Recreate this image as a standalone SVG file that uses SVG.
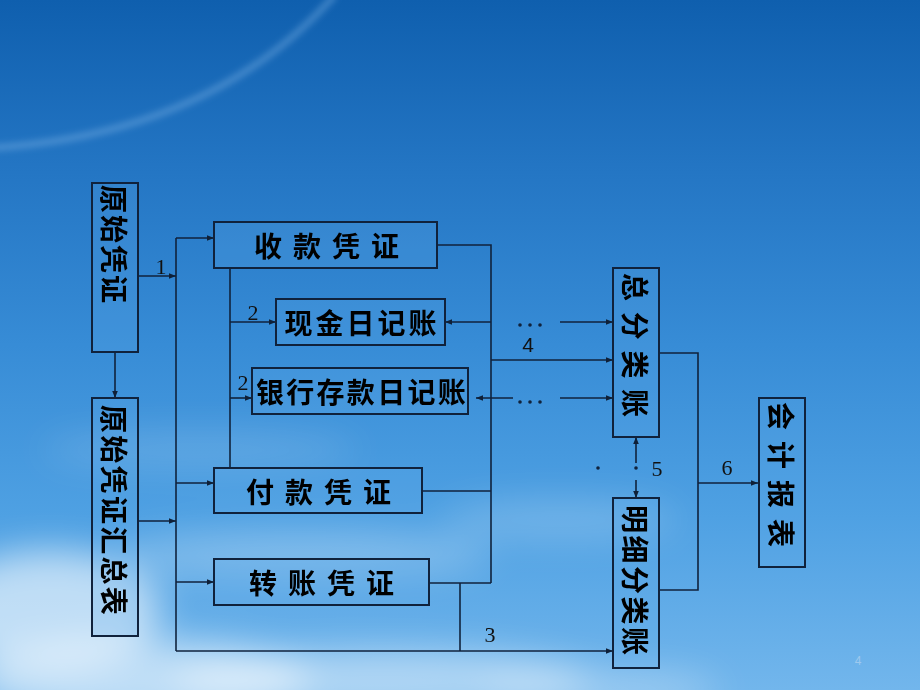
<svg xmlns="http://www.w3.org/2000/svg" width="920" height="690" viewBox="0 0 920 690">
<defs>
<linearGradient id="sky" x1="0" y1="0" x2="0" y2="1">
<stop offset="0" stop-color="#0f5fae"/>
<stop offset="0.25" stop-color="#2476c4"/>
<stop offset="0.5" stop-color="#378cd6"/>
<stop offset="0.75" stop-color="#4fa1e3"/>
<stop offset="1" stop-color="#72b6ec"/>
</linearGradient>
<filter id="blur" x="-50%" y="-50%" width="200%" height="200%"><feGaussianBlur stdDeviation="18"/></filter>
<filter id="blur2" x="-20%" y="-20%" width="140%" height="140%"><feGaussianBlur stdDeviation="3"/></filter>
<marker id="ah" viewBox="0 0 10 10" refX="10" refY="5" markerWidth="7" markerHeight="7" markerUnits="userSpaceOnUse" orient="auto">
<path d="M0,1 L10,5 L0,9 z" fill="#0f2038"/>
</marker>
<style>
.box{fill:#5aa6e6;fill-opacity:0.25;stroke:#10223c;stroke-width:2}
.ln{fill:none;stroke:#10223c;stroke-width:1.6}
.ar{fill:none;stroke:#10223c;stroke-width:1.6;marker-end:url(#ah)}
.t{font-family:"Noto Sans CJK SC","Noto Sans",sans-serif;font-size:28px;font-weight:bold;fill:#000}
.h{text-anchor:middle;dominant-baseline:central}
.v{dominant-baseline:central}
.n{font-family:"Liberation Serif",serif;font-size:22px;fill:#111}
</style>
</defs>
<rect width="920" height="690" fill="url(#sky)"/>
<path d="M-10,148 Q210,135 335,-5" fill="none" stroke="#7fb5e6" stroke-opacity="0.4" stroke-width="7" filter="url(#blur2)"/>
<g filter="url(#blur)" fill="#ffffff">
<ellipse cx="50" cy="610" rx="110" ry="60" opacity="0.6"/>
<ellipse cx="140" cy="680" rx="170" ry="40" opacity="0.55"/>
<ellipse cx="380" cy="680" rx="210" ry="30" opacity="0.45"/>
<ellipse cx="300" cy="555" rx="190" ry="25" opacity="0.25"/>
<ellipse cx="200" cy="450" rx="160" ry="18" opacity="0.15"/>
<ellipse cx="560" cy="520" rx="120" ry="20" opacity="0.2"/>
<ellipse cx="600" cy="690" rx="120" ry="20" opacity="0.3"/>
</g>

<g id="connectors">
<line class="ar" x1="115" y1="352" x2="115" y2="398"/>
<line class="ar" x1="138" y1="276" x2="176" y2="276"/>
<line class="ar" x1="138" y1="521" x2="176" y2="521"/>
<line class="ln" x1="176" y1="238" x2="176" y2="651"/>
<line class="ar" x1="176" y1="238" x2="214" y2="238"/>
<line class="ar" x1="176" y1="483" x2="214" y2="483"/>
<line class="ar" x1="176" y1="582" x2="214" y2="582"/>
<line class="ar" x1="176" y1="651" x2="613" y2="651"/>
<line class="ln" x1="230" y1="268" x2="230" y2="468"/>
<line class="ar" x1="230" y1="322" x2="276" y2="322"/>
<line class="ar" x1="230" y1="398" x2="252" y2="398"/>
<polyline class="ln" points="437,245 491,245 491,583"/>
<line class="ar" x1="491" y1="322" x2="445" y2="322"/>
<line class="ar" x1="513" y1="398" x2="476" y2="398"/>
<line class="ln" x1="422" y1="491" x2="491" y2="491"/>
<line class="ln" x1="429" y1="583" x2="491" y2="583"/>
<line class="ln" x1="460" y1="583" x2="460" y2="651"/>
<line class="ar" x1="560" y1="322" x2="613" y2="322"/>
<line class="ar" x1="491" y1="360" x2="613" y2="360"/>
<line class="ar" x1="560" y1="398" x2="613" y2="398"/>
<polyline class="ln" points="659,353 698,353 698,590 659,590"/>
<line class="ar" x1="698" y1="483" x2="758" y2="483"/>
<line class="ar" x1="636" y1="463" x2="636" y2="437"/>
<line class="ar" x1="636" y1="480" x2="636" y2="498"/>
<circle cx="598" cy="468" r="1.8" fill="#10223c"/>
<circle cx="636" cy="468" r="1.8" fill="#10223c"/>
<circle cx="520" cy="325" r="1.8" fill="#10223c"/>
<circle cx="530" cy="325" r="1.8" fill="#10223c"/>
<circle cx="540" cy="325" r="1.8" fill="#10223c"/>
<circle cx="520" cy="402" r="1.8" fill="#10223c"/>
<circle cx="530" cy="402" r="1.8" fill="#10223c"/>
<circle cx="540" cy="402" r="1.8" fill="#10223c"/>
<text class="n" x="161" y="274" text-anchor="middle">1</text>
<text class="n" x="253" y="320" text-anchor="middle">2</text>
<text class="n" x="243" y="390" text-anchor="middle" font-size="24">2</text>
<text class="n" x="490" y="642" text-anchor="middle">3</text>
<text x="528" y="352" text-anchor="middle" font-family="Liberation Sans, sans-serif" font-size="21" fill="#111">4</text>
<text class="n" x="657" y="476" text-anchor="middle">5</text>
<text class="n" x="727" y="475" text-anchor="middle">6</text>
</g>

<g id="n-yuanshi">
<rect class="box" x="92" y="183" width="46" height="169"/>
<text class="t v" transform="translate(115,185) rotate(90)" letter-spacing="2">原始凭证</text>
</g>
<g id="n-huizong">
<rect class="box" x="92" y="398" width="46" height="238"/>
<text class="t v" transform="translate(115,405) rotate(90)" letter-spacing="2.3">原始凭证汇总表</text>
</g>
<g id="n-shoukuan">
<rect class="box" x="214" y="222" width="223" height="46"/>
<text class="t h" x="332" y="245" letter-spacing="11">收款凭证</text>
</g>
<g id="n-xianjin">
<rect class="box" x="276" y="299" width="169" height="46"/>
<text class="t h" x="362" y="322" letter-spacing="3">现金日记账</text>
</g>
<g id="n-yinhang">
<rect class="box" x="252" y="368" width="216" height="46"/>
<text class="t h" x="362" y="391" letter-spacing="2.3">银行存款日记账</text>
</g>
<g id="n-fukuan">
<rect class="box" x="214" y="468" width="208" height="45"/>
<text class="t h" x="324" y="491" letter-spacing="11">付款凭证</text>
</g>
<g id="n-zhuanzhang">
<rect class="box" x="214" y="559" width="215" height="46"/>
<text class="t h" x="327" y="582" letter-spacing="11">转账凭证</text>
</g>
<g id="n-zongfen">
<rect class="box" x="613" y="268" width="46" height="169"/>
<text class="t v" transform="translate(636,273) rotate(90)" letter-spacing="10.7">总分类账</text>
</g>
<g id="n-mingxi">
<rect class="box" x="613" y="498" width="46" height="170"/>
<text class="t v" transform="translate(636,505) rotate(90)" letter-spacing="2.5">明细分类账</text>
</g>
<g id="n-baobiao">
<rect class="box" x="759" y="398" width="46" height="169"/>
<text class="t v" transform="translate(782,402) rotate(90)" letter-spacing="11">会计报表</text>
</g>
<text x="858" y="665" text-anchor="middle" font-family="Liberation Sans, sans-serif" font-size="12" fill="#9ec9ee">4</text>
</svg>
